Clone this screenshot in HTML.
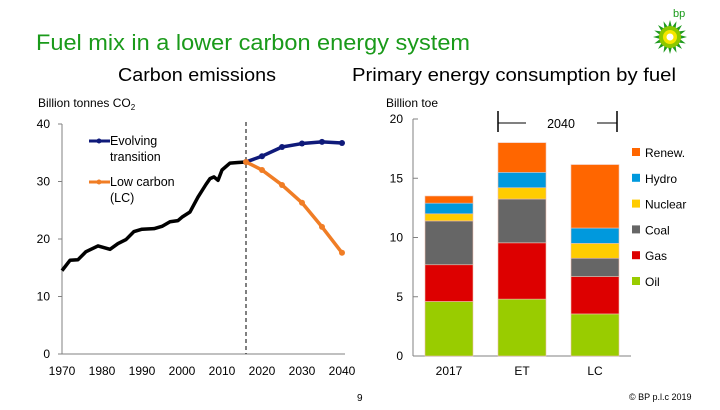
<!DOCTYPE html>
<html><head><meta charset="utf-8"><style>
body{margin:0;background:#fff;}
svg text{font-family:"Liberation Sans",sans-serif;}
</style></head><body>
<svg id="s" width="720" height="405" viewBox="0 0 720 405" xmlns="http://www.w3.org/2000/svg">
<text x="36" y="50" font-size="22" fill="#1a9a1a" textLength="434" lengthAdjust="spacingAndGlyphs">Fuel mix in a lower carbon energy system</text>
<text x="118" y="81" font-size="18" fill="#000" textLength="158" lengthAdjust="spacingAndGlyphs">Carbon emissions</text>
<text x="352" y="81" font-size="18" fill="#000" textLength="324" lengthAdjust="spacingAndGlyphs">Primary energy consumption by fuel</text>
<text x="38" y="107" font-size="12">Billion tonnes CO<tspan font-size="8" dy="3">2</tspan></text>
<text x="386" y="107" font-size="12">Billion toe</text>
<g>
<text x="673" y="17" font-size="11" fill="#1a9a1a">bp</text>
<g id="logo"></g>
</g>
<text x="357" y="401" font-size="10">9</text>
<text x="629" y="400" font-size="9">© BP p.l.c 2019</text>
<g id="left"></g><g id="right"></g>
</svg>
<script>
const histYears=[1970,1972,1974,1976,1979,1982,1984,1986,1988,1990,1993,1995,1997,1999,2000,2002,2004,2006,2007,2008,2009,2010,2012,2014,2016];
const histVals=[14.5,16.3,16.4,17.8,18.8,18.2,19.2,19.9,21.3,21.7,21.8,22.2,23.0,23.2,23.8,24.7,27.3,29.5,30.5,30.8,30.2,32.0,33.2,33.3,33.4];
const projYears=[2016,2020,2025,2030,2035,2040];
const etVals=[33.4,34.4,36.0,36.6,36.9,36.7];
const lcVals=[33.4,32.0,29.4,26.3,22.1,17.6];
const leftTicks=[0,10,20,30,40];
const xTicks=[1970,1980,1990,2000,2010,2020,2030,2040];
const barCats=["2017","ET","LC"];
const fuels=["Oil","Gas","Coal","Nuclear","Hydro","Renew."];
const oil=[4.6,4.8,3.55];
const gas=[3.1,4.75,3.15];
const coal=[3.7,3.7,1.55];
const nuclear=[0.6,0.95,1.25];
const hydro=[0.9,1.3,1.3];
const renew=[0.6,2.5,5.35];
const rightTicks=[0,5,10,15,20];

const NS="http://www.w3.org/2000/svg";
function mk(p,t,a){const e=document.createElementNS(NS,t);for(const k in a)e.setAttribute(k,a[k]);p.appendChild(e);return e;}
const lg=document.getElementById('logo');
for(let i=0;i<16;i++){const a=i*Math.PI/8;mk(lg,'polygon',{points:`${670+17*Math.cos(a)},${37+17*Math.sin(a)} ${670+9*Math.cos(a-0.25)},${37+9*Math.sin(a-0.25)} ${670+9*Math.cos(a+0.25)},${37+9*Math.sin(a+0.25)}`,fill:'#1f9a1f'});}
mk(lg,'circle',{cx:670,cy:37,r:11,fill:'#8cc800'});
mk(lg,'circle',{cx:670,cy:37,r:7,fill:'#f5e600'});
mk(lg,'circle',{cx:670,cy:37,r:3.5,fill:'#fff'});

const L=document.getElementById('left');
const lx=y=>62+(y-1970)*4, ly=v=>354-v*5.75;
let e=mk(L,'line',{x1:62,y1:ly(40),x2:62,y2:354,stroke:'#808080'});

e=mk(L,'line',{x1:62,y1:354,x2:345,y2:354,stroke:'#808080'});

leftTicks.forEach(v=>{mk(L,'line',{x1:58,x2:62,y1:ly(v),y2:ly(v),stroke:'#808080'});
 const t=mk(L,'text',{x:50,y:ly(v)+4,'font-size':12,'text-anchor':'end'});t.textContent=v;
 });
xTicks.forEach(v=>{const t=mk(L,'text',{x:lx(v),y:375,'font-size':12,'text-anchor':'middle'});t.textContent=v;
 });
e=mk(L,'line',{x1:lx(2016),x2:lx(2016),y1:122,y2:354,stroke:'#000','stroke-dasharray':'4,3'});

function series(xs,vs,col,name,marker){
 const l=mk(L,'polyline',{points:xs.map((x,i)=>lx(x)+','+ly(vs[i])).join(' '),fill:'none',stroke:col,'stroke-width':3.5,'stroke-linejoin':'round'});
 
 if(marker)xs.forEach((x,i)=>{const c=mk(L,'circle',{cx:lx(x),cy:ly(vs[i]),r:3,fill:col});
  });
}
series(histYears,histVals,'#000','historical-line',false);
series(projYears,etVals,'#0f1a7a','evolving-transition-line',true);
series(projYears,lcVals,'#f07d25','low-carbon-line',true);
[['#0f1a7a',['Evolving','transition'],141],['#f07d25',['Low carbon','(LC)'],182]].forEach(([c,txt,y],i)=>{
 const g=mk(L,'g',{});
 mk(g,'line',{x1:89,x2:110,y1:y,y2:y,stroke:c,'stroke-width':3});mk(g,'circle',{cx:99,cy:y,r:2.5,fill:c});
 const t1=mk(g,'text',{x:110,y:y+4,'font-size':12.5});t1.textContent=txt[0];
 const t2=mk(g,'text',{x:110,y:y+20,'font-size':12.5});t2.textContent=txt[1];});

const R=document.getElementById('right');
const ry=v=>356-v*11.85;
const barX=[425,498,571], bw=48;
e=mk(R,'line',{x1:413,y1:ry(20),x2:413,y2:356,stroke:'#808080'});

e=mk(R,'line',{x1:413,y1:356,x2:631,y2:356,stroke:'#808080'});

rightTicks.forEach(v=>{mk(R,'line',{x1:413,x2:418,y1:ry(v),y2:ry(v),stroke:'#808080'});
 const t=mk(R,'text',{x:403,y:ry(v)+4,'font-size':12,'text-anchor':'end'});t.textContent=v;
 });
const cols=['#99cc00','#dd0000','#666666','#ffcc00','#0099dd','#ff6600'];
const stacks=[oil,gas,coal,nuclear,hydro,renew];
barCats.forEach((c,i)=>{let base=0;
 stacks.forEach((s,j)=>{const r=mk(R,'rect',{x:barX[i],y:ry(base+s[i]),width:bw,height:s[i]*11.85,fill:cols[j],stroke:'#f0c0b0','stroke-width':0.6});
  base+=s[i];});
 const t=mk(R,'text',{x:barX[i]+bw/2,y:375,'font-size':12,'text-anchor':'middle'});t.textContent=c;
 });
const br=mk(R,'g',{});
mk(br,'line',{x1:498,x2:498,y1:111,y2:132,stroke:'#000','stroke-width':1.5});
mk(br,'line',{x1:617,x2:617,y1:111,y2:132,stroke:'#000','stroke-width':1.5});
mk(br,'line',{x1:498,x2:526,y1:123,y2:123,stroke:'#000'});
mk(br,'line',{x1:597,x2:617,y1:123,y2:123,stroke:'#000'});
let t=mk(br,'text',{x:561,y:128,'font-size':12.5,'text-anchor':'middle'});t.textContent='2040';
fuels.forEach((f,j)=>{const y=282-j*25.8;const g=mk(R,'g',{});
 
 mk(g,'rect',{x:632,y:y-5,width:8,height:8,fill:cols[j]});
 const tt=mk(g,'text',{x:645,y:y+4,'font-size':12});tt.textContent=f;});
</script>
</body></html>
